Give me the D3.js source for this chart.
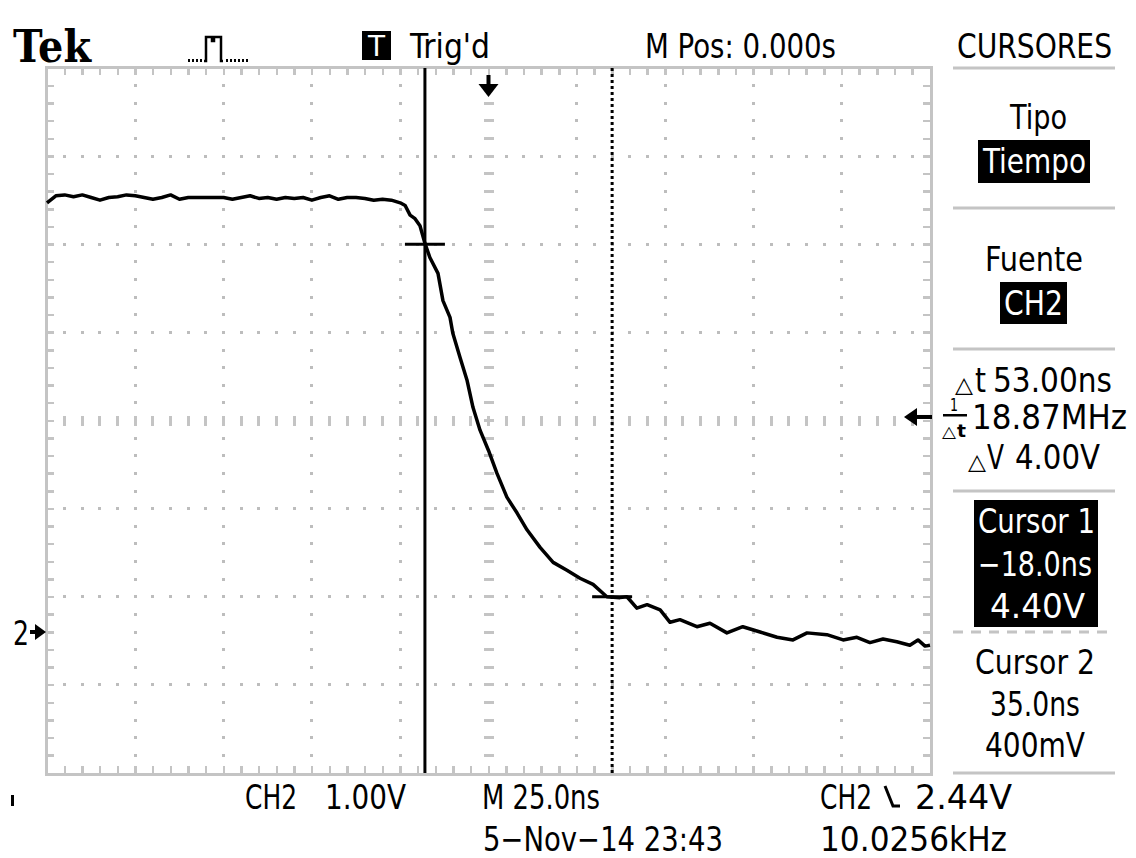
<!DOCTYPE html>
<html><head><meta charset="utf-8">
<script src="https://cdn.jsdelivr.net/npm/d3@7"></script>
<style>body{margin:0;background:#fff}svg{display:block}
text{font-family:"DejaVu Sans Condensed","Liberation Sans Narrow","DejaVu Sans",sans-serif;fill:#000}</style>
</head><body><svg id="c" width="1136" height="858"></svg>
<script>
// ---- data (CH2 trace, time in ns, volts) ----
const timeNs = [-125,-122.5,-120,-117.5,-115,-112.5,-110,-107.5,-105,-102.5,-100,-97.5,-95,-92.5,-90,-87.5,-85,-82.5,-80,-77.5,-75,-72.5,-70,-67.5,-65,-62.5,-60,-57.5,-55,-52.5,-50,-47.5,-45,-42.5,-40,-37.5,-35,-32.5,-30,-27.5,-25,-23.6,-22.2,-20.8,-19.4,-18,-16.6,-14.3,-12.9,-10.9,-10.1,-8.1,-6.1,-4.4,-2.4,0,2.4,5.2,8.1,10.9,14.6,18.3,22.2,25.9,29.6,33.5,37.2,39.2,42,44.9,48.6,51.4,54.2,59,62.7,67.5,72,76.9,81.7,86.2,90.2,95.8,100.4,104.3,108,111.7,115.6,119.3,121.6,123.6,125];
const voltsCh2 = [4.87,4.95,4.96,4.94,4.96,4.93,4.90,4.93,4.94,4.96,4.95,4.93,4.91,4.93,4.96,4.91,4.93,4.93,4.93,4.93,4.93,4.91,4.93,4.95,4.92,4.93,4.91,4.93,4.92,4.93,4.90,4.93,4.95,4.91,4.93,4.93,4.92,4.90,4.91,4.90,4.87,4.84,4.73,4.69,4.61,4.41,4.25,4.07,3.76,3.57,3.39,3.12,2.86,2.55,2.29,2.06,1.80,1.53,1.35,1.16,0.96,0.79,0.70,0.61,0.54,0.40,0.39,0.40,0.27,0.31,0.25,0.11,0.14,0.06,0.10,-0.01,0.06,0.00,-0.06,-0.09,-0.01,-0.03,-0.09,-0.06,-0.12,-0.08,-0.11,-0.15,-0.09,-0.16,-0.15];
const timeDomain = [-125, 125];      // 25 ns/div, M Pos 0
const voltDomain = [-1.6, 6.4];      // 1.00 V/div
const cursorTimes = [-18.0, 35.0];
const cursorVolts = [4.40, 0.40];
const triggerLevel = 2.44;
const topLabels = ["Trig'd", "M Pos: 0.000s", "CURSORES"];
const panelLabels = ["Tipo","Tiempo","Fuente","CH2","53.00ns","18.87MHz","4.00V","Cursor 1","\u221218.0ns","4.40V","Cursor 2","35.0ns","400mV"];
const bottomLabels = ["CH2","1.00V","M 25.0ns","CH2","2.44V","5\u2212Nov\u221214 23:43","10.0256kHz"];

const svg = d3.select("#c");
const L=47,R=930,T=68,B=773;
const x = d3.scaleLinear().domain(timeDomain).range([L,R]);
const y = d3.scaleLinear().domain(voltDomain).range([B,T]);
const grey="#c4c4c4", dotc="#bdbdbd";

// grid dots along major lines
const g = svg.append("g").attr("shape-rendering","crispEdges");
const majT = d3.range(-100,125,25).filter(t=>t!==0);
const majV = d3.range(-0.6,6.4,1).map(v=>+v.toFixed(1)).filter(v=>Math.abs(v-2.4)>0.01);
const minT = d3.range(-120,125,5), minV = d3.range(-1.4,6.4,0.2).map(v=>+v.toFixed(1));
majT.forEach(t=>minV.forEach(v=>g.append("rect").attr("x",x(t)-1.5).attr("y",y(v)-1.5).attr("width",3).attr("height",3).attr("fill",dotc)));
majV.forEach(v=>minT.forEach(t=>{ if(t!==0) g.append("rect").attr("x",x(t)-1.5).attr("y",y(v)-1.5).attr("width",3).attr("height",3).attr("fill",dotc);}));
// center cross with dashes
minV.forEach(v=>g.append("rect").attr("x",x(0)-5).attr("y",y(v)-1.5).attr("width",10).attr("height",3).attr("fill",grey));
minT.forEach(t=>g.append("rect").attr("x",x(t)-1.5).attr("y",y(2.4)-5).attr("width",3).attr("height",10).attr("fill",grey));
// border ticks
minT.forEach(t=>{g.append("rect").attr("x",x(t)-1).attr("y",T).attr("width",2.5).attr("height",7).attr("fill",grey);
  g.append("rect").attr("x",x(t)-1).attr("y",B-7).attr("width",2.5).attr("height",7).attr("fill",grey);});
minV.forEach(v=>{g.append("rect").attr("x",L).attr("y",y(v)-1).attr("width",7).attr("height",2.5).attr("fill",grey);
  g.append("rect").attr("x",R-7).attr("y",y(v)-1).attr("width",7).attr("height",2.5).attr("fill",grey);});
g.append("rect").attr("x",L-1).attr("y",T-1).attr("width",R-L+2).attr("height",B-T+2).attr("fill","none").attr("stroke",grey).attr("stroke-width",3);

// trace
svg.append("path").datum(timeNs.map((t,i)=>[t,voltsCh2[i]]))
  .attr("d",d3.line().x(d=>x(d[0])).y(d=>y(d[1])).curve(d3.curveLinear))
  .attr("fill","none").attr("stroke","#000").attr("stroke-width",3.5).attr("stroke-linejoin","round");

// cursors
svg.append("line").attr("x1",x(cursorTimes[0])).attr("x2",x(cursorTimes[0])).attr("y1",T).attr("y2",B).attr("stroke","#000").attr("stroke-width",3);
svg.append("line").attr("x1",x(cursorTimes[1])).attr("x2",x(cursorTimes[1])).attr("y1",T).attr("y2",B).attr("stroke","#000").attr("stroke-width",3).attr("stroke-dasharray","3,3");
cursorTimes.forEach((t,i)=>svg.append("line").attr("x1",x(t)-20).attr("x2",x(t)+20).attr("y1",y(cursorVolts[i])).attr("y2",y(cursorVolts[i])).attr("stroke","#000").attr("stroke-width",3));

// trigger position arrow (top)
const tx=x(0);
svg.append("rect").attr("x",tx-2).attr("y",75).attr("width",4).attr("height",12).attr("fill","#000");
svg.append("path").attr("d",`M${tx-10},84 L${tx+10},84 L${tx},97 Z`).attr("fill","#000");
// trigger level arrow (right)
const ty=y(triggerLevel);
svg.append("path").attr("d",`M904,${ty} L917,${ty-9} L917,${ty+9} Z`).attr("fill","#000");
svg.append("rect").attr("x",914).attr("y",ty-2).attr("width",18).attr("height",4).attr("fill","#000");
// channel ground marker
const gy=y(0);
svg.append("text").attr("x",13).attr("y",gy+13).attr("font-size",34).attr("textLength",16).attr("lengthAdjust","spacingAndGlyphs").text("2");
svg.append("path").attr("d",`M46,${gy} L35,${gy-8} L35,${gy+8} Z`).attr("fill","#000");
svg.append("rect").attr("x",30).attr("y",gy-2).attr("width",8).attr("height",4).attr("fill","#000");

// text helper
function txt(s,xx,yy,w,opt={}){
  const t=svg.append("text").attr("x",xx).attr("y",yy).attr("font-size",opt.size||34)
    .attr("textLength",w).attr("lengthAdjust","spacingAndGlyphs").text(s);
  if(opt.fill) t.style("fill",opt.fill);
  if(opt.family) t.style("font-family",opt.family);
  if(opt.weight) t.attr("font-weight",opt.weight);
  return t;
}
// top row
txt("Tek",13,62,78,{size:44,family:"'DejaVu Serif','Liberation Serif',serif",weight:"bold"});
// pulse icon
svg.append("path").attr("d","M204,61 L206,61 L206,37 L212,37 L212,41 L214,41 L214,37 L221,37 L221,61 L223,61")
  .attr("fill","none").attr("stroke","#000").attr("stroke-width",2.5);
[188,192,196,200,226,230,234,238,242,246].forEach(d=>svg.append("rect").attr("x",d).attr("y",59).attr("width",2).attr("height",3).attr("fill","#000"));
svg.append("rect").attr("x",362).attr("y",31).attr("width",29).attr("height",29).attr("fill","#000");
txt("T",368,56,17,{size:28,fill:"#fff"});
txt(topLabels[0],410,58,80);
txt(topLabels[1],645,58,191);
txt(topLabels[2],957,58,155);

// right panel separators
[68,208,349,491,773].forEach(v=>svg.append("rect").attr("x",953).attr("y",v-1.5).attr("width",162).attr("height",3).attr("fill",grey));
svg.append("line").attr("x1",953).attr("x2",1115).attr("y1",632).attr("y2",632).attr("stroke",grey).attr("stroke-width",3).attr("stroke-dasharray","10,8");

txt(panelLabels[0],1010,129,57);
svg.append("rect").attr("x",978).attr("y",140).attr("width",112).attr("height",43).attr("fill","#000");
txt(panelLabels[1],983,173,103,{fill:"#fff"});
txt(panelLabels[2],985,271,98);
svg.append("rect").attr("x",1000).attr("y",282).attr("width",67).attr("height",42).attr("fill","#000");
txt(panelLabels[3],1004,315,59,{fill:"#fff"});
// delta lines
txt("\u25B3",955,392,18,{size:22});
txt("t",975,392,11);
txt(panelLabels[4],993,392,119);
txt("1",950,411,8,{size:17});
svg.append("rect").attr("x",943).attr("y",414).attr("width",24).attr("height",2.5).attr("fill","#000");
txt("\u25B3",942,437,14,{size:16});
txt("t",957,437,9,{size:18,weight:"bold"});
txt(panelLabels[5],972,429,155);
txt("\u25B3",968,469,18,{size:22});
txt("V",987,469,17);
txt(panelLabels[6],1015,469,85);
svg.append("rect").attr("x",974).attr("y",500).attr("width",124).attr("height",127).attr("fill","#000");
txt(panelLabels[7],978,533,117,{fill:"#fff"});
txt(panelLabels[8],978,576,114,{fill:"#fff"});
txt(panelLabels[9],990,618,95,{fill:"#fff"});
txt(panelLabels[10],975,674,120);
txt(panelLabels[11],990,716,90);
txt(panelLabels[12],985,757,100);

// bottom
svg.append("rect").attr("x",11).attr("y",795).attr("width",3).attr("height",11).attr("fill","#000");
txt(bottomLabels[0],245,809,52);
txt(bottomLabels[1],325,809,81);
txt(bottomLabels[2],482,809,118);
txt(bottomLabels[3],820,809,52);
svg.append("path").attr("d","M885,786 L893,806 L900,806").attr("fill","none").attr("stroke","#000").attr("stroke-width",3);
txt(bottomLabels[4],915,809,97);
txt(bottomLabels[5],483,851,240);
txt(bottomLabels[6],820,851,187);
</script></body></html>
